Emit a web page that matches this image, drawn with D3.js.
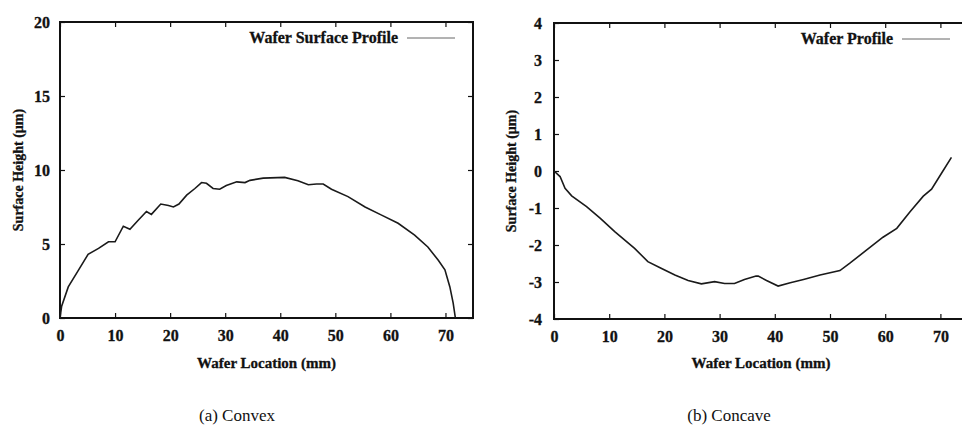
<!DOCTYPE html>
<html>
<head>
<meta charset="utf-8">
<script src="https://cdn.jsdelivr.net/npm/d3@7"></script>
<style>
  body { margin: 0; background: #fff; }
</style>
</head>
<body>
<div id="chart"></div>
<script>
// two wafer profile panels side by side

var xTicks = [0, 10, 20, 30, 40, 50, 60, 70];

var convexYTicks = [0, 5, 10, 15, 20];
var convexX = [0, 0.3, 1.5, 3.3, 5.1, 7.0, 8.8, 10.0, 11.5, 12.7, 14.2, 15.7, 16.6, 18.3, 19.7, 20.6, 21.6, 23.0, 24.5, 25.7, 26.6, 27.8, 29.0, 30.2, 32.1, 33.6, 34.5, 36.9, 40.8, 43.2, 45.1, 46.6, 47.8, 49.3, 52.3, 55.4, 58.4, 61.4, 64.4, 66.8, 68.7, 69.9, 70.8, 71.4, 71.8];
var convexY = [0, 0.8, 2.1, 3.2, 4.3, 4.7, 5.15, 5.15, 6.2, 6.0, 6.6, 7.2, 7.0, 7.7, 7.6, 7.5, 7.7, 8.3, 8.75, 9.15, 9.1, 8.75, 8.7, 8.95, 9.2, 9.15, 9.3, 9.45, 9.5, 9.28, 9.0, 9.05, 9.05, 8.7, 8.2, 7.5, 6.95, 6.4, 5.6, 4.8, 3.9, 3.25, 2.1, 1.0, 0.0];

var concaveYTicks = [-4, -3, -2, -1, 0, 1, 2, 3, 4];
var concaveX = [0, 1.1, 2.0, 3.2, 5.9, 8.4, 11.0, 14.6, 17.0, 19.4, 21.9, 24.3, 26.7, 29.1, 30.9, 32.7, 34.5, 36.6, 37.0, 38.5, 40.6, 42.8, 45.2, 48.2, 51.8, 53.6, 56.6, 59.6, 62.1, 64.5, 66.9, 68.4, 70.2, 72.0];
var concaveY = [0, -0.15, -0.47, -0.67, -0.96, -1.28, -1.64, -2.09, -2.45, -2.63, -2.81, -2.96, -3.05, -2.99, -3.04, -3.04, -2.93, -2.84, -2.84, -2.96, -3.11, -3.02, -2.93, -2.81, -2.69, -2.49, -2.14, -1.79, -1.55, -1.1, -0.68, -0.49, -0.06, 0.37];

var serif = "'Liberation Serif', 'Times New Roman', serif";

var svg = d3.select("#chart")
  .append("svg")
  .attr("width", 962)
  .attr("height", 426);

// bold serif text, a touch heavier like the scan
function heavy(sel, size) {
  sel.style("font-family", serif)
    .attr("font-size", size)
    .attr("font-weight", "bold")
    .attr("fill", "#111")
    .attr("stroke", "#111")
    .attr("stroke-width", 0.3);
}

// plain hyphen for negatives, like the original
function plain(d) { return String(d); }

function panel(opts) {
  var x = d3.scaleLinear().domain([0, 75]).range([opts.left, opts.right]);
  var y = d3.scaleLinear().domain(opts.yDomain).range([opts.bottom, opts.top]);
  var g = svg.append("g");

  // bottom axis with labels, ticks pointing inward
  g.append("g")
    .attr("transform", "translate(0," + opts.bottom + ")")
    .call(d3.axisBottom(x).tickValues(xTicks).tickSize(-5).tickPadding(12).tickFormat(plain))
    .call(style);

  g.append("g")
    .attr("transform", "translate(" + opts.left + ",0)")
    .call(d3.axisLeft(y).tickValues(opts.yTicks).tickSize(-5).tickPadding(opts.yPad).tickFormat(plain))
    .call(style);

  g.append("g")
    .attr("transform", "translate(0," + opts.top + ")")
    .call(d3.axisTop(x).tickValues(xTicks).tickSize(-5).tickFormat(""))
    .call(style);

  g.append("g")
    .attr("transform", "translate(" + opts.right + ",0)")
    .call(d3.axisRight(y).tickValues(opts.yTicks).tickSize(-5).tickFormat(""))
    .call(style);

  g.append("rect")
    .attr("x", opts.left)
    .attr("y", opts.top)
    .attr("width", opts.right - opts.left)
    .attr("height", opts.bottom - opts.top)
    .attr("fill", "none")
    .attr("stroke", "#111")
    .attr("stroke-width", 2);

  var line = d3.line()
    .x(function(d) { return x(d[0]); })
    .y(function(d) { return y(d[1]); });

  g.append("path")
    .datum(d3.zip(opts.xs, opts.ys))
    .attr("d", line)
    .attr("fill", "none")
    .attr("stroke", "#1a1a1a")
    .attr("stroke-width", 1.6);

  // legend
  g.append("text")
    .attr("x", opts.legendX)
    .attr("y", opts.top + 21)
    .attr("text-anchor", "end")
    .text(opts.legend)
    .call(heavy, 16);

  g.append("line")
    .attr("x1", opts.legendX + 9)
    .attr("x2", opts.legendX + 57)
    .attr("y1", opts.top + 16)
    .attr("y2", opts.top + 16)
    .attr("stroke", "#666")
    .attr("stroke-width", 1);

  g.append("text")
    .attr("x", (opts.left + opts.right) / 2)
    .attr("y", 368)
    .attr("text-anchor", "middle")
    .text("Wafer Location (mm)")
    .call(heavy, 15);

  g.append("text")
    .attr("transform", "translate(" + opts.titleX + "," + ((opts.top + opts.bottom) / 2) + ") rotate(-90)")
    .attr("text-anchor", "middle")
    .text("Surface Height (\u00b5m)")
    .call(heavy, 14);

  g.append("text")
    .attr("x", opts.captionX)
    .attr("y", 421)
    .attr("text-anchor", "middle")
    .style("font-family", serif)
    .attr("font-size", 17)
    .attr("fill", "#111")
    .text(opts.caption);
}

function style(sel) {
  sel.attr("font-family", null);
  sel.select(".domain").remove();
  sel.selectAll("line").attr("stroke", "#111").attr("stroke-width", 1.2);
  sel.selectAll("text").call(heavy, 16);
}

panel({
  left: 60, right: 473, top: 22, bottom: 318,
  yDomain: [0, 20], yTicks: convexYTicks, yPad: 10,
  xs: convexX, ys: convexY,
  legend: "Wafer Surface Profile", legendX: 398,
  titleX: 23, caption: "(a) Convex", captionX: 237
});

panel({
  left: 554, right: 968, top: 23, bottom: 319,
  yDomain: [-4, 4], yTicks: concaveYTicks, yPad: 12,
  xs: concaveX, ys: concaveY,
  legend: "Wafer Profile", legendX: 893,
  titleX: 516, caption: "(b) Concave", captionX: 729
});
</script>
</body>
</html>
